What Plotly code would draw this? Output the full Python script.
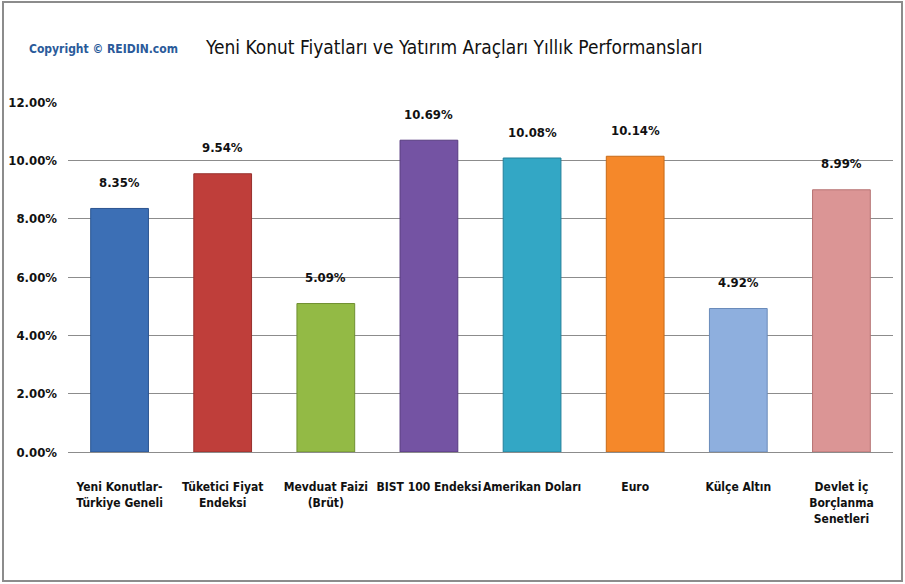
import plotly.graph_objects as go

CATEGORIES = [
    "Yeni Konutlar-<br>Türkiye Geneli",
    "Tüketici Fiyat<br>Endeksi",
    "Mevduat Faizi<br>(Brüt)",
    "BIST 100 Endeksi",
    "Amerikan Doları",
    "Euro",
    "Külçe Altın",
    "Devlet İç<br>Borçlanma<br>Senetleri",
]
VALUES = [0.0835, 0.0954, 0.0509, 0.1069, 0.1008, 0.1014, 0.0492, 0.0899]
COLORS = ["#3C6FB5", "#BF3E3A", "#93BA45", "#7453A3",
          "#33A7C5", "#F5882A", "#8EAFDE", "#DB9595"]
LINE_COLORS = ["#2B5490", "#97302D", "#6F8F30", "#56397F",
               "#23809A", "#C76A17", "#6A8BBA", "#B57272"]
Y_TICKS = [0, 0.02, 0.04, 0.06, 0.08, 0.10, 0.12]

FONT = "DejaVu Sans Condensed, DejaVu Sans, sans-serif"
GRAY = "#8C8C8C"
W, H = 905, 584
L, R, T, B = 68, 12, 102, 132

fig = go.Figure(go.Bar(
    x=CATEGORIES, y=VALUES,
    marker=dict(color=COLORS, line=dict(color=LINE_COLORS, width=1)),
    width=0.56,
    hoverinfo="x+y",
))

# rotulos de valor acima das barras
for cat, v in zip(CATEGORIES, VALUES):
    fig.add_annotation(x=cat, y=v, text=f"<b>{v:.2%}</b>", showarrow=False,
                       yanchor="middle", yshift=26,
                       font=dict(family=FONT, size=13, color="#111111"))


# cerceve: px -> paper
def px_x(p):
    return (p - L) / (W - L - R)


def px_y(p):
    return 1 - (p - T) / (H - T - B)


fig.add_shape(type="rect", xref="paper", yref="paper",
              x0=px_x(3), x1=px_x(902), y0=px_y(581), y1=px_y(2),
              line=dict(color=GRAY, width=2), layer="below")

fig.add_annotation(text="<b>Copyright © REIDIN.com</b>", xref="paper", yref="paper",
                   x=px_x(27), y=px_y(49), xanchor="left", yanchor="middle",
                   showarrow=False, font=dict(family=FONT, size=12, color="#2A5A9A"))
fig.add_annotation(text="Yeni Konut Fiyatları ve Yatırım Araçları Yıllık Performansları",
                   xref="paper", yref="paper",
                   x=px_x(454), y=px_y(47), xanchor="center", yanchor="middle",
                   showarrow=False, font=dict(family=FONT, size=19, color="#111111"))

fig.update_layout(
    width=W, height=H,
    margin=dict(l=L, r=R, t=T, b=B, autoexpand=False),
    paper_bgcolor="white", plot_bgcolor="white",
    font=dict(family=FONT, color="#111111"),
    showlegend=False,
)
fig.update_yaxes(
    range=[0, 0.12], tickvals=Y_TICKS,
    ticktext=[f"<b>{v:.2%}</b>" for v in Y_TICKS],
    tickfont=dict(family=FONT, size=13, color="#111111"),
    showgrid=True, gridcolor=GRAY, gridwidth=1,
    zeroline=False, showline=False, ticks="",
    ticklabelstandoff=10,
)
fig.update_xaxes(
    showline=True, linecolor=GRAY, linewidth=1,
    ticks="", tickangle=0, ticklabelstandoff=24,
    tickfont=dict(family=FONT, size=12, color="#111111"),
    ticktext=[f"<b>{c}</b>" for c in CATEGORIES], tickvals=CATEGORIES,
)

fig.write_html("out.html", config={"displayModeBar": False},
               post_script="document.body.style.margin='0';")
